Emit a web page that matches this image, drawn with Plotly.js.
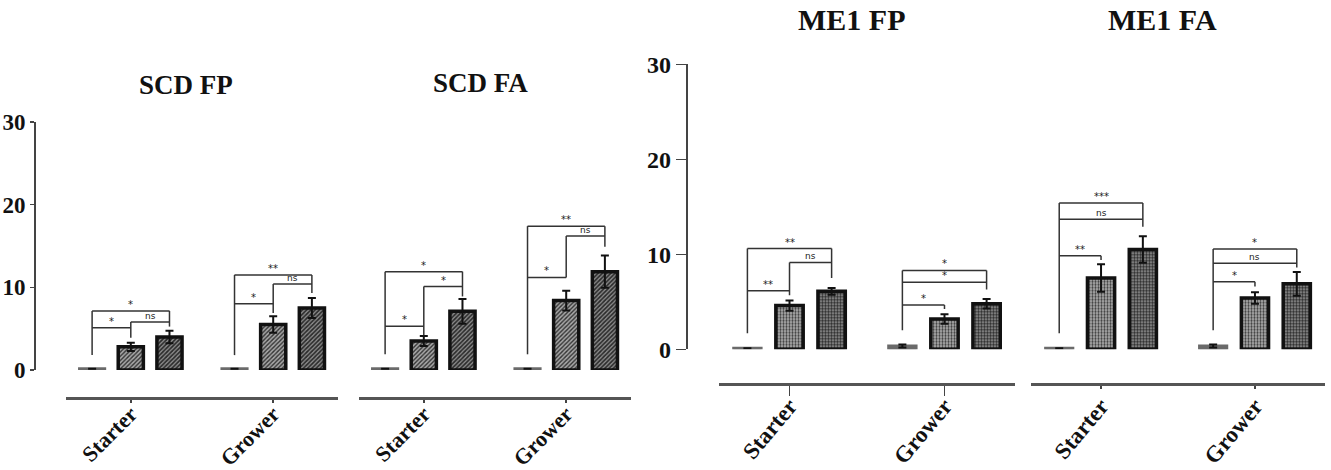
<!DOCTYPE html>
<html><head><meta charset="utf-8">
<script src="https://cdn.plot.ly/plotly-3.0.1.min.js"></script>
<style>body{margin:0;background:#fff}#chart{width:1331px;height:470px}</style>
</head><body><div id="chart"></div>
<script>
// ---------- DATA ----------
const groups = ['Starter', 'Grower'];

// SCD FP
const scdFP_ctrl = [0.15, 0.15];
const scdFP_ctrlErr = [0, 0];
const scdFP_b2 = [2.8, 5.5];
const scdFP_b2Err = [0.5, 1.0];
const scdFP_b3 = [4.0, 7.5];
const scdFP_b3Err = [0.75, 1.2];
// brackets: [group, fromBar, toBar, height, leftDrop, rightDrop, label]
const scdFP_brackets = [
  [0, 0, 2, 7.15, 1.8, 5.25, '*'], [0, 1, 2, 5.8, 3.9, 5.8, 'ns'], [0, 0, 1, 5.1, 5.1, 5.1, '*'],
  [1, 0, 2, 11.5, 1.8, 9.3, '**'], [1, 1, 2, 10.4, 6.9, 10.4, 'ns'], [1, 0, 1, 8.0, 8.0, 8.0, '*']
];

// SCD FA
const scdFA_ctrl = [0.15, 0.15];
const scdFA_ctrlErr = [0, 0];
const scdFA_b2 = [3.5, 8.4];
const scdFA_b2Err = [0.6, 1.2];
const scdFA_b3 = [7.1, 11.9];
const scdFA_b3Err = [1.5, 1.95];
const scdFA_brackets = [
  [0, 0, 2, 11.9, 1.9, 8.9, '*'], [0, 1, 2, 10.1, 4.2, 10.1, '*'], [0, 0, 1, 5.3, 5.3, 5.3, '*'],
  [1, 0, 2, 17.4, 1.9, 14.9, '**'], [1, 1, 2, 16.2, 11.2, 16.2, 'ns'], [1, 0, 1, 11.2, 11.2, 11.2, '*']
];

// ME1 FP
const me1FP_ctrl = [0.12, 0.35];
const me1FP_ctrlErr = [0, 0.15];
const me1FP_b2 = [4.6, 3.2];
const me1FP_b2Err = [0.55, 0.5];
const me1FP_b3 = [6.1, 4.8];
const me1FP_b3Err = [0.35, 0.5];
const me1FP_brackets = [
  [0, 0, 2, 10.6, 1.7, 7.5, '**'], [0, 1, 2, 9.15, 5.7, 9.15, 'ns'], [0, 0, 1, 6.17, 6.17, 6.17, '**'],
  [1, 0, 2, 8.3, 2.0, 6.3, '*'], [1, 0, 2, 7.05, 7.05, 7.05, '*'], [1, 0, 1, 4.66, 4.66, 4.25, '*']
];

// ME1 FA
const me1FA_ctrl = [0.12, 0.35];
const me1FA_ctrlErr = [0, 0.15];
const me1FA_b2 = [7.5, 5.4];
const me1FA_b2Err = [1.45, 0.6];
const me1FA_b3 = [10.5, 6.9];
const me1FA_b3Err = [1.4, 1.25];
const me1FA_brackets = [
  [0, 0, 2, 15.4, 1.7, 12.9, '***'], [0, 0, 2, 13.7, 13.7, 13.7, 'ns'], [0, 0, 1, 9.85, 9.85, 9.4, '**'],
  [1, 0, 2, 10.55, 2.0, 8.6, '*'], [1, 0, 2, 9.05, 9.05, 9.05, 'ns'], [1, 0, 1, 7.1, 7.1, 6.6, '*']
];

const titles = ['SCD FP', 'SCD FA', 'ME1 FP', 'ME1 FA'];
const yTicks = [0, 10, 20, 30];

// ---------- LAYOUT HELPERS ----------
const W = 1331, H = 470;
const BARGAP = 0.185, BARGROUPGAP = 0.35;
const SLOT = (1 - BARGAP) / 3;
const px = v => v / W;
const py = v => 1 - v / H;
const SERIF = 'Liberation Serif, Times New Roman, serif';

const panels = [
  {xa: 'x', ya: 'y', ctrl: scdFP_ctrl, ctrlErr: scdFP_ctrlErr, b2: scdFP_b2, b2Err: scdFP_b2Err, b3: scdFP_b3, b3Err: scdFP_b3Err, br: scdFP_brackets, kind: 'scd'},
  {xa: 'x2', ya: 'y', ctrl: scdFA_ctrl, ctrlErr: scdFA_ctrlErr, b2: scdFA_b2, b2Err: scdFA_b2Err, b3: scdFA_b3, b3Err: scdFA_b3Err, br: scdFA_brackets, kind: 'scd'},
  {xa: 'x3', ya: 'y2', ctrl: me1FP_ctrl, ctrlErr: me1FP_ctrlErr, b2: me1FP_b2, b2Err: me1FP_b2Err, b3: me1FP_b3, b3Err: me1FP_b3Err, br: me1FP_brackets, kind: 'me1'},
  {xa: 'x4', ya: 'y2', ctrl: me1FA_ctrl, ctrlErr: me1FA_ctrlErr, b2: me1FA_b2, b2Err: me1FA_b2Err, b3: me1FA_b3, b3Err: me1FA_b3Err, br: me1FA_brackets, kind: 'me1'}
];

const styles = {
  scd: [
    {color: '#6a6a6a', line: {color: '#6a6a6a', width: 3}},
    {color: '#999', line: {color: '#111', width: 3.5}, pattern: {shape: '/', size: 3, solidity: 0.45, fgcolor: '#333', bgcolor: '#a8a8a8', fillmode: 'replace'}},
    {color: '#777', line: {color: '#111', width: 3.5}, pattern: {shape: '/', size: 3, solidity: 0.55, fgcolor: '#2a2a2a', bgcolor: '#8e8e8e', fillmode: 'replace'}}
  ],
  me1: [
    {color: '#6a6a6a', line: {color: '#6a6a6a', width: 3}},
    {color: '#999', line: {color: '#111', width: 3.5}, pattern: {shape: '.', size: 3, solidity: 0.45, fgcolor: '#3a3a3a', bgcolor: '#b5b5b5', fillmode: 'replace'}},
    {color: '#777', line: {color: '#111', width: 3.5}, pattern: {shape: '.', size: 3, solidity: 0.55, fgcolor: '#2a2a2a', bgcolor: '#999999', fillmode: 'replace'}}
  ]
};

const xIdx = groups.map((_, i) => i);
const traces = [];
const shapes = [];
const annotations = [];

panels.forEach(p => {
  const series = [[p.ctrl, p.ctrlErr], [p.b2, p.b2Err], [p.b3, p.b3Err]];
  series.forEach((s, k) => {
    traces.push({
      type: 'bar', x: xIdx, y: s[0], xaxis: p.xa, yaxis: p.ya,
      marker: styles[p.kind][k],
      error_y: {type: 'data', array: s[1], visible: true, color: '#111', thickness: 2, width: 4},
      cliponaxis: false, showlegend: false, hoverinfo: 'y'
    });
  });
  const yref = p.ya;
  p.br.forEach(b => {
    const [g, i, j, h, dl, dr, label] = b;
    const xi = g + (i - 1) * SLOT, xj = g + (j - 1) * SLOT;
    const ln = {color: '#333', width: 1.5};
    shapes.push({type: 'line', xref: p.xa, yref, x0: xi, x1: xj, y0: h, y1: h, line: ln});
    if (dl < h) shapes.push({type: 'line', xref: p.xa, yref, x0: xi, x1: xi, y0: dl, y1: h, line: ln});
    if (dr < h) shapes.push({type: 'line', xref: p.xa, yref, x0: xj, x1: xj, y0: dr, y1: h, line: ln});
    annotations.push({xref: p.xa, yref, x: (xi + xj) / 2, y: h, yanchor: 'bottom', showarrow: false,
      text: label, font: {family: 'DejaVu Sans, sans-serif', size: label === 'ns' ? 9 : 10, color: '#222'}, yshift: -1});
  });
});

// titles
const titlePos = [[186, 85, 27], [480, 83, 27], [851, 20, 30], [1162, 20, 30]];
titles.forEach((t, i) => {
  annotations.push({xref: 'paper', yref: 'paper', x: px(titlePos[i][0]), y: py(titlePos[i][1]),
    xanchor: 'center', yanchor: 'middle', showarrow: false, text: t,
    font: {family: SERIF, size: titlePos[i][2], color: '#111', weight: 'bold'}});
});

function xAxis(x0, x1, yline, ticklen, angle, fsize, standoff) {
  return {domain: [px(x0), px(x1)], anchor: 'free', position: py(yline), range: [-0.455, 1.455],
    tickvals: xIdx, ticktext: groups, showline: true, linecolor: '#555', linewidth: 2.5,
    ticks: 'outside', ticklen, tickcolor: '#444', tickwidth: 1.5, tickangle: angle,
    ticklabelstandoff: standoff,
    tickfont: {family: SERIF, size: fsize, color: '#111', weight: 'bold'},
    showgrid: false, zeroline: false, fixedrange: true};
}
function yAxis(y0, y30, xpos, ticklen, fsize) {
  return {domain: [py(y0), py(y30)], anchor: 'free', position: px(xpos), range: [0, 30],
    tickvals: yTicks, showline: true, linecolor: '#444', linewidth: 2,
    ticks: 'outside', ticklen, tickcolor: '#444', tickwidth: 1.5,
    tickfont: {family: SERIF, size: fsize, color: '#111', weight: 'bold'},
    showgrid: false, zeroline: false, fixedrange: true};
}

const layout = {
  width: W, height: H, margin: {l: 0, r: 0, t: 0, b: 0},
  paper_bgcolor: '#fff', plot_bgcolor: 'rgba(0,0,0,0)',
  barmode: 'group', bargap: BARGAP, bargroupgap: BARGROUPGAP,
  showlegend: false,
  xaxis: xAxis(66, 338, 398, 3, -45, 22, -10),
  xaxis2: xAxis(359, 631, 398, 3, -45, 22, -10),
  xaxis3: xAxis(719, 1015, 384, 10, -50, 23, -12),
  xaxis4: xAxis(1031, 1325, 384, 3, -50, 23, -5),
  yaxis: yAxis(370, 122, 35, 4, 23),
  yaxis2: yAxis(349.3, 64.3, 686.7, 10, 24),
  shapes, annotations
};

Plotly.newPlot('chart', traces, layout, {displayModeBar: false, staticPlot: true});
</script></body></html>
